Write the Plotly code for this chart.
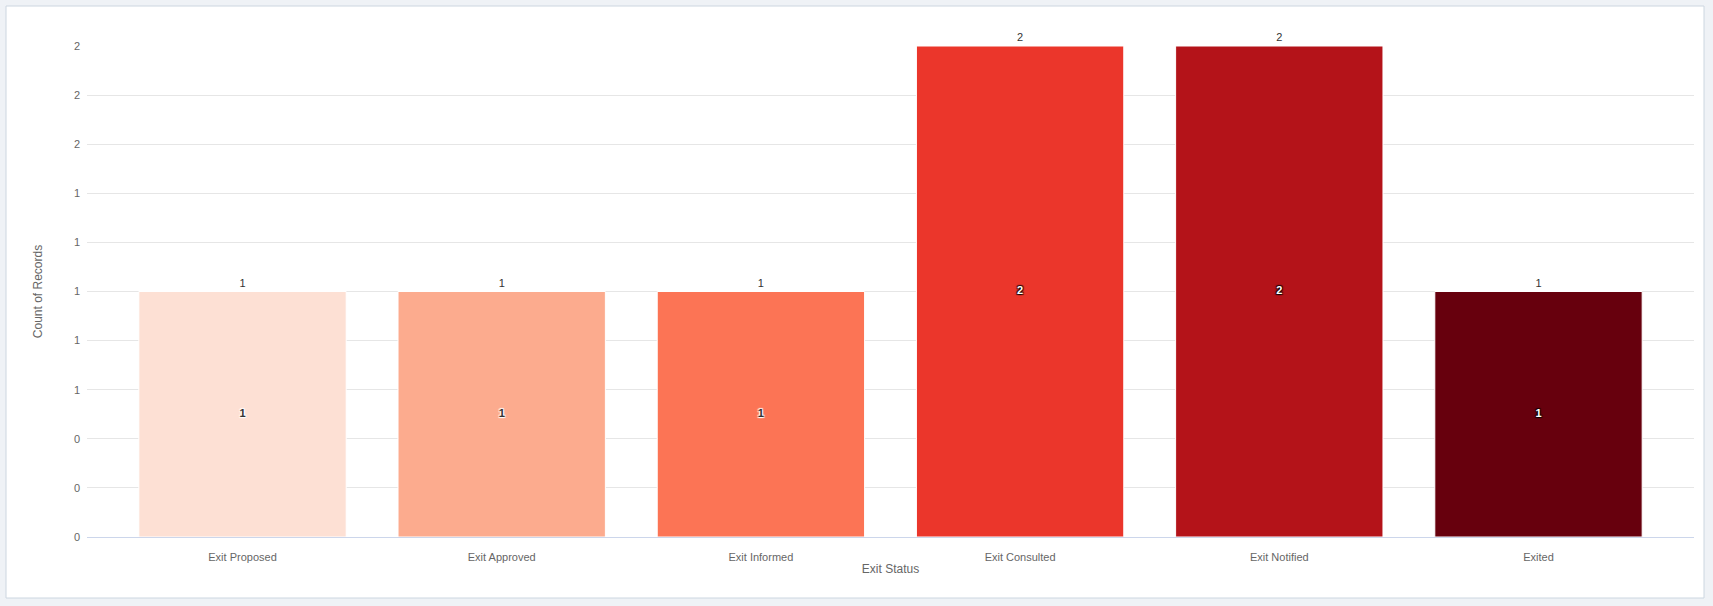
import plotly.graph_objects as go

# Exit status counts
statuses = ["Exit Proposed", "Exit Approved", "Exit Informed",
            "Exit Consulted", "Exit Notified", "Exited"]
counts = [1, 1, 1, 2, 2, 1]
bar_colors = ["#FDE0D4", "#FCAB8E", "#FC7455", "#EB362B", "#B41319", "#67000D"]

y_ticks = [0, 0.2, 0.4, 0.6, 0.8, 1.0, 1.2, 1.4, 1.6, 1.8, 2.0]

FONT = "Arial, Liberation Sans, sans-serif"
W, H = 1713, 606


def is_dark(hex_color):
    r, g, b = (int(hex_color[i:i + 2], 16) for i in (1, 3, 5))
    return (0.299 * r + 0.587 * g + 0.114 * b) < 110


def outline(c):
    return ", ".join(f"{dx}px {dy}px 1px {c}"
                     for dx, dy in [(1, 1), (-1, -1), (1, -1), (-1, 1)])


fig = go.Figure()

# bars with the value on top
fig.add_trace(go.Bar(
    x=statuses, y=counts,
    marker=dict(color=bar_colors, line=dict(color="white", width=1)),
    text=[str(c) for c in counts],
    textposition="outside",
    textfont=dict(family=FONT, size=11, color="#333333"),
    cliponaxis=False,
    hoverinfo="x+y",
    showlegend=False,
))

# value again in the middle of each bar (contrast text)
light = [i for i, c in enumerate(bar_colors) if not is_dark(c)]
dark = [i for i, c in enumerate(bar_colors) if is_dark(c)]
for idx, col, edge in [(light, "#333333", "rgba(255,255,255,0.9)"),
                       (dark, "white", "rgba(0,0,0,0.75)")]:
    fig.add_trace(go.Scatter(
        x=[statuses[i] for i in idx],
        y=[counts[i] / 2 for i in idx],
        text=[str(counts[i]) for i in idx],
        mode="text",
        textposition="middle center",
        textfont=dict(family=FONT, size=11, color=col, weight="bold",
                      shadow=outline(edge)),
        hoverinfo="skip",
        showlegend=False,
    ))

# white card behind the chart
fig.add_shape(type="rect", xref="paper", yref="paper", layer="below",
              x0=(6 - 87) / (W - 87 - 19), x1=(1704 - 87) / (W - 87 - 19),
              y0=(537 - 598) / (537 - 46), y1=(537 - 6) / (537 - 46),
              fillcolor="white", line=dict(color="#CCD6E0", width=1))

fig.update_layout(
    width=W, height=H,
    margin=dict(l=87, r=19, t=46, b=69),
    paper_bgcolor="#EFF2F6",
    plot_bgcolor="rgba(0,0,0,0)",
    bargap=0.2,
    font=dict(family=FONT, size=11, color="#666666"),
    xaxis=dict(
        range=[-0.6, 5.6],
        showgrid=False,
        showline=True, linecolor="#CCD6EB", linewidth=1,
        ticks="", ticklabelstandoff=10,
        tickfont=dict(size=11, color="#666666"),
        title=dict(text="Exit Status", standoff=2,
                   font=dict(size=12, color="#666666")),
    ),
    yaxis=dict(
        range=[0, 2],
        tickvals=y_ticks,
        tickformat=".0f",
        showgrid=True, gridcolor="#E6E6E6", gridwidth=1,
        zeroline=False,
        ticks="", ticklabelstandoff=6,
        tickfont=dict(size=11, color="#666666"),
        title=dict(text="Count of Records", standoff=28,
                   font=dict(size=12, color="#666666")),
    ),
)

fig.write_html("out.html",
               config={"displayModeBar": False},
               post_script="document.body.style.margin='0';"
                           "document.body.style.overflow='hidden';")
